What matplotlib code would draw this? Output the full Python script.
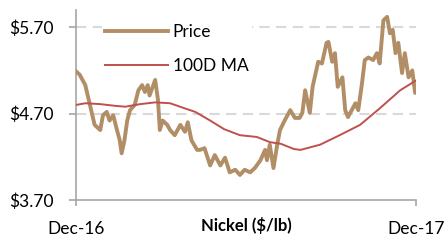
import matplotlib.pyplot as plt

# days since Dec-16
price_day = [0, 4, 10, 15, 20, 26, 29, 33, 36, 40, 44, 47, 49, 52, 55, 58, 63, 67, 71, 74,
             77, 79, 83, 85, 88, 90, 93, 98, 101, 106, 112, 117, 120, 124, 130, 133, 138,
             144, 149, 155, 160, 165, 171, 176, 181, 187, 192, 198, 203, 205, 208, 212,
             216, 219, 224, 230, 235, 240, 243, 246, 251, 254, 260, 264, 269, 271, 275,
             278, 281, 286, 289, 292, 296, 300, 303, 307, 310, 314, 319, 323, 326, 330,
             334, 337, 340, 343, 346, 350, 353, 357, 361, 364, 366]
price = [5.19, 5.15, 5.03, 4.80, 4.57, 4.51, 4.68, 4.72, 4.62, 4.68, 4.51, 4.39, 4.24,
         4.39, 4.62, 4.74, 4.80, 4.97, 5.03, 4.95, 5.03, 4.91, 5.03, 5.09, 4.86, 4.51,
         4.62, 4.57, 4.51, 4.45, 4.57, 4.49, 4.60, 4.39, 4.28, 4.28, 4.30, 4.10, 4.22,
         4.10, 4.19, 4.02, 4.05, 3.99, 4.05, 4.02, 4.07, 4.16, 4.28, 4.16, 4.34, 4.07,
         4.34, 4.51, 4.62, 4.74, 4.65, 4.65, 4.71, 4.97, 4.71, 5.01, 5.30, 5.28, 5.52,
         5.53, 5.30, 5.40, 5.01, 5.12, 4.74, 4.66, 4.74, 4.82, 4.74, 5.05, 5.32, 5.35,
         5.32, 5.40, 5.28, 5.78, 5.82, 5.63, 5.67, 5.40, 5.52, 5.17, 5.40, 5.12, 5.20,
         4.94, 4.97]

ma_day = [0, 10, 26, 42, 53, 69, 85, 101, 117, 128, 144, 159, 176, 194, 208, 220,
          234, 241, 262, 283, 305, 326, 348, 366]
ma = [4.80, 4.82, 4.81, 4.79, 4.78, 4.81, 4.83, 4.82, 4.76, 4.72, 4.62, 4.52, 4.45,
      4.43, 4.37, 4.35, 4.29, 4.28, 4.34, 4.45, 4.57, 4.76, 4.97, 5.09]

y_ticks = [3.70, 4.70, 5.70]
x_ticks = [0, 365]
x_labels = ['Dec-16', 'Dec-17']

plt.rcParams['font.family'] = ['Lato', 'DejaVu Sans']

fig = plt.figure(figsize=(4.48, 2.43), dpi=100)
ax = fig.add_axes([0.1696, 0.177, 0.759, 0.782])

ax.plot(price_day, price, color='#B18E66', lw=2.8, label='Price', zorder=3)
ax.plot(ma_day, ma, color='#C0504D', lw=1.4, label='100D MA', zorder=4)

ax.set_xlim(0, 365)
ax.set_ylim(3.70, 5.90)
ax.set_yticks(y_ticks)
ax.set_yticklabels(['$%.2f' % v for v in y_ticks], fontsize=12.5)
ax.set_xticks(x_ticks)
ax.set_xticklabels(x_labels, fontsize=12.5)
ax.set_xlabel('Nickel ($/lb)', fontsize=12, fontweight='bold', labelpad=-14)

for v in y_ticks[1:]:
    ax.axhline(v, color='#D9D9D9', lw=1.5, ls=(0, (5, 3)), zorder=1)

for s in ['top', 'right']:
    ax.spines[s].set_visible(False)
for s in ['left', 'bottom']:
    ax.spines[s].set_color('#A6A6A6')
    ax.spines[s].set_linewidth(1.2)
ax.tick_params(axis='y', color='#A6A6A6', length=5, width=1.2, pad=11)
ax.tick_params(axis='x', color='#A6A6A6', length=4, width=1.2, pad=11)

leg = ax.legend(loc='upper left', bbox_to_anchor=(0.05, 0.99), frameon=True,
                fontsize=12.5, handlelength=3.6, borderpad=0.2, labelspacing=1.05,
                handletextpad=0.3)
leg.get_frame().set_facecolor('white')
leg.get_frame().set_edgecolor('none')
leg.get_frame().set_alpha(1)

fig.savefig('out.png', dpi=100)
